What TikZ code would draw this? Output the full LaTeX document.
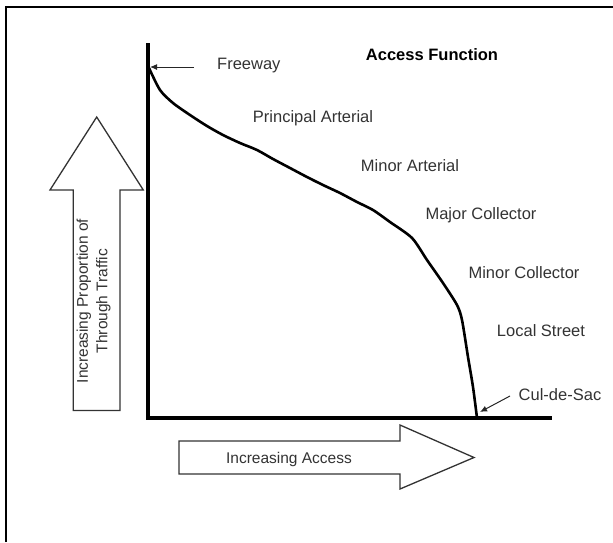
\documentclass[tikz,border=0pt]{standalone}
\usepackage{fontspec}
\setmainfont{Liberation Sans}
\usetikzlibrary{arrows.meta}
\begin{document}
\begin{tikzpicture}[x=1pt,y=-1pt,
  lbl/.style={font=\fontsize{16.5}{19}\selectfont, text=black!80, inner sep=0pt},
  arrlbl/.style={font=\fontsize{15.5}{19.5}\selectfont, text=black!80, inner sep=0pt, align=center},
  axisline/.style={line width=3.8pt, line join=miter},
  curveline/.style={line width=2.6pt, line join=round, line cap=round},
  bigarrow/.style={draw=black!80, line width=1.3pt, fill=white, line join=miter},
  pointer/.style={draw=black!85, line width=1pt, -{Latex[length=7pt,width=6pt]}}]
\useasboundingbox (0,0) rectangle (613,542);
% frame (top and left only)
\draw[line width=2pt] (6,542) -- (6,6.5) -- (613,6.5);
% axes
\coordinate (ytop) at (148,43);
\coordinate (O) at (148,418);
\coordinate (xend) at (552,418);
\draw[axisline] (ytop) -- (O) -- (xend);
% access function curve
\draw[curveline] plot[smooth, tension=0.45] coordinates {
  (149,68) (160,90) (173,103) (190,115) (207,126) (223,135) (240,143)
  (257,150) (273,159) (290,168) (307,177) (323,185) (340,193) (357,202)
  (373,210) (390,222) (412,238) (427,260) (443,283) (457,305) (462,320)
  (468,357) (473,387) (477,418)};
% big arrows
\draw[bigarrow] (73.3,410.5) -- (73.3,190) -- (50,190) -- (96.7,117) -- (143.3,190)
  -- (120,190) -- (120,410.5) -- cycle;
\draw[bigarrow] (179,441) -- (400,441) -- (400,425) -- (474,457.5) -- (400,489)
  -- (400,474) -- (179,474) -- cycle;
\node[arrlbl, rotate=90] (ylab) at (93.5,301) {Increasing Proportion of\\Through Traffic};
\node[arrlbl] (xlab) at (289,459) {Increasing Access};
% title
\node[lbl, font=\fontsize{16.5}{19}\selectfont\bfseries, text=black] (title) at (432,55) {Access Function};
% labels
\node[lbl, anchor=west] (fw) at (217,66) {Freeway};
\node[lbl] (pa) at (313,118) {Principal Arterial};
\node[lbl] (mna) at (410,166) {Minor Arterial};
\node[lbl] (mjc) at (481,215.5) {Major Collector};
\node[lbl] (mnc) at (524,273) {Minor Collector};
\node[lbl] (ls) at (541,331) {Local Street};
\node[lbl] (cds) at (560,395) {Cul-de-Sac};
% pointers
\coordinate (fwtail) at (194,67);
\coordinate (fwtip) at (150,67);
\draw[pointer] (fwtail) -- (fwtip);
\coordinate (cdtail) at (510,396);
\coordinate (cdtip) at (480,412);
\draw[pointer] (cdtail) -- (cdtip);
\end{tikzpicture}
\end{document}
